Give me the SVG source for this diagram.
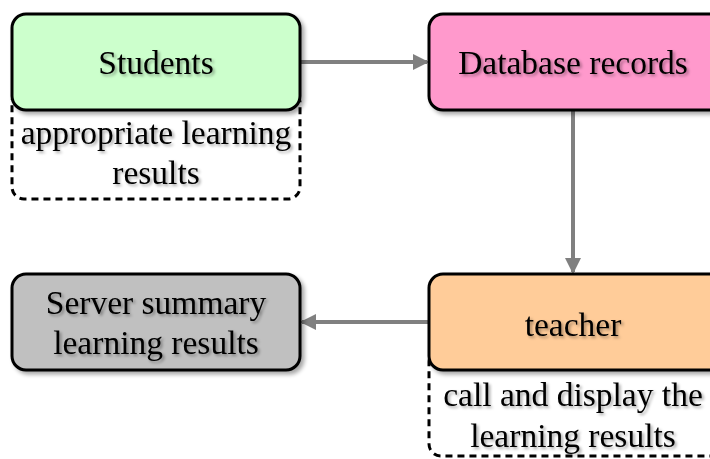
<svg xmlns="http://www.w3.org/2000/svg" width="710" height="459" viewBox="0 0 710 459">
<style>
.box{stroke:#000;stroke-width:3;filter:url(#sh)}
.dash{fill:none;stroke:#000;stroke-width:3;stroke-dasharray:7 5}
.t{font-family:"Liberation Serif","Times New Roman",serif;font-size:33.5px;fill:#000;text-anchor:middle;filter:url(#tsh)}
.c{stroke:#808080;stroke-width:4;fill:none;marker-end:url(#ah)}
</style>
<defs>
<filter id="sh" x="-10%" y="-10%" width="130%" height="130%">
<feGaussianBlur in="SourceAlpha" stdDeviation="2"/>
<feOffset dx="3" dy="3"/>
<feComponentTransfer><feFuncA type="linear" slope="0.35"/></feComponentTransfer>
<feMerge><feMergeNode/><feMergeNode in="SourceGraphic"/></feMerge>
</filter>
<filter id="tsh" x="-10%" y="-20%" width="130%" height="150%">
<feGaussianBlur in="SourceAlpha" stdDeviation="1.5"/>
<feOffset dx="2" dy="2"/>
<feComponentTransfer><feFuncA type="linear" slope="0.35"/></feComponentTransfer>
<feMerge><feMergeNode/><feMergeNode in="SourceGraphic"/></feMerge>
</filter>
<marker id="ah" markerWidth="4" markerHeight="4" refX="3.5" refY="2" orient="auto" markerUnits="strokeWidth">
<path d="M0,0 L4,2 L0,4 Z" fill="#808080"/>
</marker>
</defs>
<g id="connectors">
<line class="c" x1="301" y1="62" x2="427" y2="62"/>
<line class="c" x1="573" y1="110" x2="573" y2="272"/>
<line class="c" x1="428" y1="322" x2="302" y2="322"/>
</g>
<g id="students-note">
<rect class="dash" x="12" y="90" width="288" height="109" rx="12"/>
<text class="t" x="156" y="144">appropriate learning</text>
<text class="t" x="156" y="184">results</text>
</g>
<g id="teacher-note">
<rect class="dash" x="429" y="350" width="300" height="106" rx="12"/>
<text class="t" x="573" y="406">call and display the</text>
<text class="t" x="573" y="447">learning results</text>
</g>
<g id="students">
<rect class="box" x="12" y="14" width="288" height="96" rx="14" fill="#CCFFCC"/>
<text class="t" x="156" y="74">Students</text>
</g>
<g id="database">
<rect class="box" x="429" y="14" width="300" height="96" rx="14" fill="#FF99CC"/>
<text class="t" x="573" y="74">Database records</text>
</g>
<g id="teacher">
<rect class="box" x="429" y="274" width="300" height="96" rx="14" fill="#FFCC99"/>
<text class="t" x="573" y="336">teacher</text>
</g>
<g id="server">
<rect class="box" x="12" y="274" width="288" height="96" rx="14" fill="#C0C0C0"/>
<text class="t" x="156" y="314">Server summary</text>
<text class="t" x="156" y="354">learning results</text>
</g>
</svg>
